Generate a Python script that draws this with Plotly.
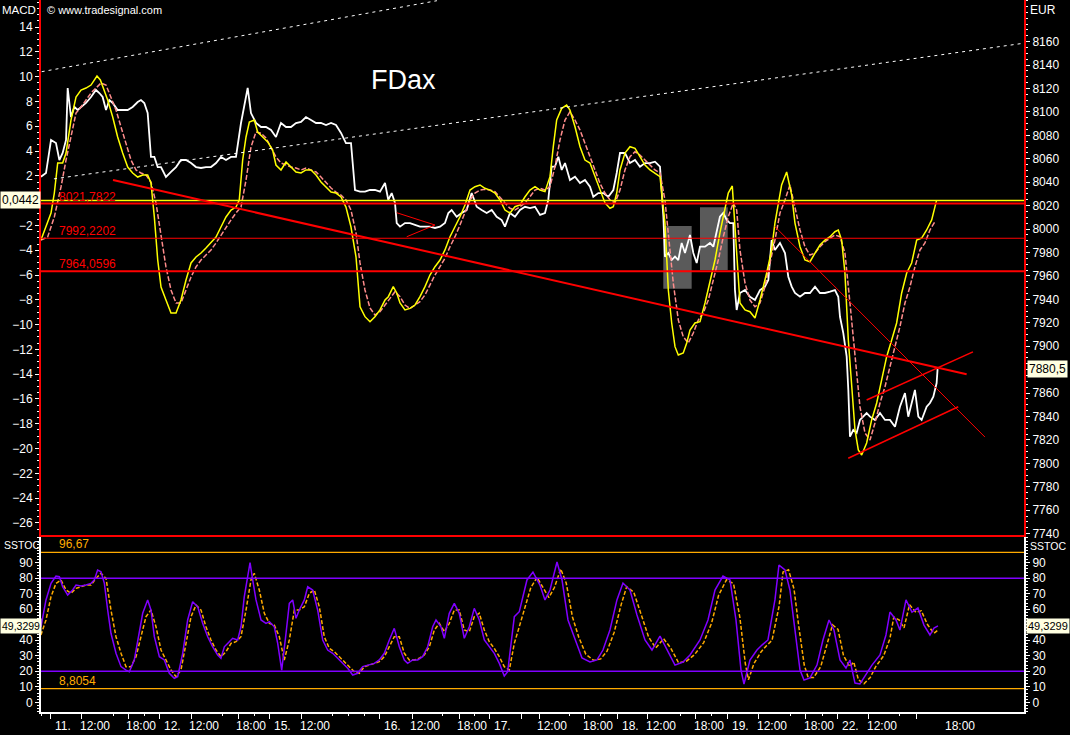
import plotly.graph_objects as go

# ------------------------------------------------------------------
# DATA  (x = trading hours since 11. 08:00 on a session-compressed axis)
# ------------------------------------------------------------------
price_pts = [
    (-1.15, 8044.8), (-0.51, 8047.9), (0.13, 8076.1), (0.76, 8073.5), (1.19, 8059.0), (1.61, 8065.0),
    (2.04, 8076.1), (2.25, 8120.5), (2.67, 8095.7), (3.10, 8104.3), (3.52, 8101.7), (3.95, 8104.3),
    (4.58, 8107.7), (5.22, 8112.8), (5.85, 8118.8), (6.28, 8116.2), (6.70, 8112.8), (7.13, 8101.7),
    (7.55, 8110.2), (7.98, 8107.7), (8.61, 8101.7), (9.25, 8101.7), (9.89, 8101.7), (10.52, 8104.3),
    (11.16, 8108.5), (11.58, 8110.2), (12.00, 8107.7), (12.43, 8099.1), (12.85, 8061.6), (13.28, 8061.6),
    (13.71, 8053.0), (14.13, 8053.0), (14.76, 8044.5), (15.40, 8048.8), (16.04, 8053.0), (16.67, 8059.0),
    (17.31, 8059.0), (17.95, 8056.4), (18.58, 8053.0), (19.22, 8052.2), (19.85, 8053.0), (20.49, 8053.0),
    (21.13, 8056.4), (21.76, 8061.6), (22.40, 8059.0), (23.04, 8061.6), (23.67, 8061.6), (24.31, 8090.6),
    (24.73, 8104.3), (25.16, 8120.5), (25.58, 8099.1), (26.22, 8090.6), (26.86, 8087.2), (27.49, 8087.2),
    (28.13, 8084.6), (28.76, 8078.6), (29.40, 8090.6), (30.04, 8087.2), (30.67, 8087.2), (31.31, 8090.6),
    (31.95, 8091.5), (32.58, 8095.7), (33.22, 8093.2), (33.86, 8090.6), (34.49, 8090.6), (35.13, 8088.9),
    (35.77, 8090.6), (36.40, 8088.9), (37.04, 8082.1), (37.67, 8073.5), (38.31, 8073.5), (38.73, 8036.0),
    (38.82, 8033.4), (39.46, 8032.0), (40.09, 8032.0), (40.73, 8033.4), (41.36, 8033.4), (42.00, 8032.0),
    (42.64, 8039.4), (43.06, 8024.9), (43.49, 8030.8), (43.91, 8022.3), (44.13, 8005.2), (44.55, 8002.1),
    (45.18, 8005.2), (45.82, 8005.2), (46.46, 8003.5), (47.09, 8002.1), (47.73, 8002.1), (48.36, 8002.1),
    (49.00, 8001.0), (49.64, 8002.1), (50.27, 8005.2), (50.70, 8013.8), (51.12, 8016.3), (51.76, 8010.6),
    (52.40, 8013.8), (53.03, 8016.3), (53.67, 8030.8), (54.31, 8019.1), (54.94, 8016.3), (55.58, 8013.8),
    (56.22, 8016.3), (56.85, 8010.6), (57.49, 8007.8), (57.91, 8002.1), (58.55, 8013.8), (59.18, 8010.6),
    (59.82, 8016.3), (60.46, 8019.1), (61.09, 8018.0), (61.73, 8019.1), (62.37, 8012.1), (63.00, 8013.8),
    (63.42, 8024.9), (63.85, 8053.3), (64.27, 8053.3), (64.70, 8061.8), (65.13, 8050.5), (65.55, 8056.4),
    (66.18, 8041.9), (66.82, 8044.8), (67.46, 8039.4), (68.09, 8041.9), (68.73, 8036.2), (69.15, 8027.7),
    (69.79, 8030.8), (70.42, 8030.8), (71.06, 8027.7), (71.70, 8033.4), (72.13, 8047.9), (72.55, 8065.0),
    (73.18, 8065.0), (73.82, 8056.4), (74.46, 8059.0), (75.09, 8053.3), (75.73, 8056.4), (76.37, 8056.4),
    (77.00, 8057.6), (77.64, 8053.3), (78.07, 8010.6), (78.27, 7976.5), (78.70, 7979.6), (79.13, 7973.6),
    (79.55, 7976.5), (79.97, 7973.6), (80.40, 7988.2), (80.82, 7979.6), (81.46, 7995.0), (81.88, 7979.6),
    (82.31, 7971.1), (82.73, 7985.0), (83.37, 7985.0), (84.00, 7988.2), (84.43, 7985.0), (84.85, 7996.7),
    (85.27, 8010.6), (85.70, 8013.8), (86.13, 8007.8), (86.55, 8005.2), (86.97, 8005.2), (87.18, 7948.0),
    (87.40, 7931.0), (87.82, 7945.5), (88.46, 7948.0), (89.09, 7942.3), (89.73, 7939.5), (90.37, 7948.0),
    (91.00, 7950.9), (91.43, 7956.6), (91.85, 7990.7), (92.27, 7982.2), (92.91, 7988.2), (93.55, 7979.6),
    (93.97, 7959.4), (94.40, 7950.9), (94.82, 7945.5), (95.46, 7942.3), (96.09, 7945.5), (96.73, 7945.5),
    (97.37, 7950.9), (98.00, 7945.5), (98.64, 7945.5), (99.28, 7946.6), (99.91, 7948.0), (100.33, 7942.3),
    (100.55, 7925.2), (100.97, 7911.3), (101.40, 7891.1), (101.61, 7862.7), (101.82, 7822.8), (102.24, 7828.5),
    (102.67, 7826.0), (103.09, 7837.1), (103.52, 7839.9), (103.94, 7843.0), (104.37, 7839.9), (105.00, 7837.1),
    (105.64, 7843.0), (106.28, 7837.1), (106.91, 7837.1), (107.55, 7831.3), (108.18, 7848.4), (108.82, 7860.1),
    (109.24, 7839.9), (109.67, 7851.6), (110.09, 7862.7), (110.52, 7839.9), (110.94, 7837.1), (111.58, 7848.4),
    (112.00, 7851.6), (112.43, 7857.0), (112.85, 7868.6), (112.97, 7880.5),
]

macd_pts = [
    (-1.15, -3.18), (-0.51, -2.10), (0.13, -1.00), (0.55, 0.61), (0.98, 3.03), (1.61, 3.03), (2.04, 3.84),
    (2.67, 6.50), (3.31, 8.35), (3.95, 8.92), (4.58, 9.08), (5.22, 9.32), (5.64, 9.73), (5.98, 10.05),
    (6.41, 9.73), (6.92, 8.92), (7.34, 8.11), (7.98, 6.74), (8.61, 5.13), (9.25, 3.84), (9.89, 2.71),
    (10.52, 2.23), (11.16, 1.90), (11.80, 2.06), (12.43, 2.06), (12.85, 1.42), (13.28, -1.32), (13.71, -4.79),
    (14.13, -6.97), (14.76, -8.02), (15.40, -9.06), (16.04, -9.06), (16.67, -8.02), (17.31, -6.40),
    (17.95, -5.03), (18.58, -4.55), (19.22, -4.23), (19.85, -3.82), (20.49, -3.42), (21.13, -2.94),
    (21.76, -2.13), (22.40, -1.32), (23.04, -0.76), (23.67, -0.52), (24.09, 0.05), (24.52, 3.27),
    (24.95, 5.13), (25.37, 6.34), (26.00, 6.50), (26.43, 5.53), (27.07, 5.13), (27.71, 4.73), (28.34, 4.08),
    (28.76, 2.87), (29.40, 2.47), (30.04, 3.11), (30.67, 2.71), (31.31, 2.31), (31.95, 2.23), (32.58, 2.47),
    (33.22, 2.47), (33.86, 2.06), (34.49, 1.50), (35.13, 1.10), (35.77, 0.69), (36.40, 0.61), (37.04, 0.29),
    (37.67, -0.52), (38.31, -2.13), (38.95, -4.55), (39.46, -8.56), (40.09, -9.36), (40.73, -9.77),
    (41.36, -9.36), (42.00, -8.82), (42.64, -8.02), (43.06, -7.75), (43.69, -6.94), (44.13, -7.45),
    (44.55, -8.26), (45.18, -8.82), (45.82, -8.69), (46.46, -8.42), (47.09, -7.75), (47.73, -6.94),
    (48.36, -6.00), (49.00, -5.33), (49.64, -4.79), (50.27, -3.98), (50.91, -2.91), (51.55, -2.10),
    (52.18, -1.30), (52.82, -0.35), (53.46, 0.85), (54.09, 1.12), (54.73, 1.26), (55.36, 0.99), (56.00, 0.85),
    (56.64, 0.61), (57.27, 0.05), (57.91, -0.76), (58.55, -1.00), (59.18, -0.49), (59.82, -0.35),
    (60.46, 0.31), (61.09, 0.85), (61.73, 1.12), (62.37, 0.85), (63.00, 0.72), (63.64, 1.93), (64.06, 4.35),
    (64.49, 6.50), (65.13, 7.44), (65.76, 7.71), (66.18, 7.31), (66.82, 5.96), (67.46, 4.35), (68.09, 3.27),
    (68.73, 3.03), (69.37, 1.93), (70.00, 0.85), (70.64, -0.19), (71.27, -0.62), (71.70, -0.49),
    (72.13, 0.61), (72.55, 2.47), (73.18, 3.84), (73.82, 4.35), (74.46, 4.22), (75.09, 3.54), (75.73, 2.87),
    (76.37, 2.47), (77.00, 2.23), (77.64, 1.93), (78.27, -1.81), (78.70, -7.21), (79.13, -9.87),
    (79.55, -11.78), (79.97, -12.45), (80.60, -12.29), (81.04, -11.48), (81.46, -10.44), (82.09, -9.87),
    (82.73, -9.77), (83.37, -8.26), (84.00, -6.65), (84.64, -4.79), (85.27, -2.61), (85.91, -0.49),
    (86.33, 0.61), (86.84, 1.18), (87.40, -4.52), (87.82, -8.26), (88.46, -8.82), (89.09, -8.96),
    (89.73, -9.47), (90.37, -8.02), (91.22, -5.84), (91.85, -3.98), (92.27, -1.81), (92.70, -0.19),
    (93.12, 1.26), (93.76, 2.31), (94.40, 0.45), (94.82, -1.81), (95.46, -3.72), (96.09, -4.79),
    (96.73, -4.93), (97.37, -4.23), (98.00, -3.58), (98.64, -3.18), (99.28, -2.91), (99.91, -2.51),
    (100.33, -2.37), (100.76, -3.18), (101.18, -5.84), (101.61, -11.24), (102.04, -15.27), (102.46, -18.50),
    (102.88, -20.11), (103.31, -20.52), (103.94, -19.55), (104.58, -17.69), (105.22, -16.32),
    (105.85, -14.47), (106.49, -12.59), (107.13, -11.24), (107.76, -9.87), (108.40, -7.45), (109.04, -5.84),
    (109.67, -5.03), (110.31, -3.18), (110.94, -3.02), (111.58, -2.37), (112.22, -1.56), (112.85, 0.04),
]

signal_pts = [
    (-1.15, -3.18), (-0.30, -2.94), (0.55, -1.32), (1.40, 1.10), (2.04, 3.27), (2.67, 5.13), (3.31, 7.06),
    (3.95, 7.55), (4.58, 8.11), (5.22, 8.68), (5.85, 9.08), (6.49, 9.48), (7.13, 9.32), (7.76, 8.35),
    (8.40, 7.31), (9.04, 5.94), (9.67, 4.65), (10.31, 3.27), (10.95, 2.47), (11.58, 2.23), (12.22, 2.06),
    (12.85, 1.50), (13.49, -0.19), (14.13, -2.94), (14.76, -5.35), (15.40, -7.21), (16.04, -8.26),
    (16.67, -8.26), (17.31, -7.21), (17.95, -6.16), (18.58, -5.35), (19.22, -4.79), (19.85, -4.39),
    (20.49, -3.98), (21.13, -3.42), (21.76, -2.77), (22.40, -2.13), (23.04, -1.56), (23.67, -1.00),
    (24.31, -0.52), (24.95, 1.66), (25.58, 4.32), (26.22, 5.53), (26.86, 5.44), (27.49, 5.05), (28.13, 4.32),
    (28.76, 3.52), (29.40, 3.03), (30.04, 2.87), (30.67, 2.71), (31.31, 2.63), (31.95, 2.47), (32.58, 2.63),
    (33.22, 2.47), (33.86, 2.31), (34.49, 1.90), (35.13, 1.42), (35.77, 1.02), (36.40, 0.69), (37.04, 0.45),
    (37.67, 0.05), (38.31, -0.76), (38.95, -2.61), (39.46, -5.03), (40.09, -7.21), (40.73, -8.66),
    (41.36, -9.23), (42.00, -8.96), (42.64, -8.42), (43.27, -7.85), (43.91, -7.35), (44.55, -7.75),
    (45.18, -8.42), (45.82, -8.69), (46.46, -8.42), (47.09, -8.15), (47.73, -7.61), (48.36, -6.81),
    (49.00, -6.00), (49.64, -5.33), (50.27, -4.65), (50.91, -3.72), (51.55, -2.91), (52.18, -1.97),
    (52.82, -1.00), (53.46, 0.05), (54.09, 0.61), (54.73, 0.85), (55.36, 0.91), (56.00, 0.85), (56.64, 0.72),
    (57.27, 0.31), (57.91, -0.19), (58.55, -0.62), (59.18, -0.76), (59.82, -0.49), (60.46, -0.19),
    (61.09, 0.31), (61.73, 0.85), (62.37, 0.99), (63.00, 0.85), (63.64, 1.12), (64.27, 2.73), (64.91, 4.89),
    (65.55, 6.50), (66.18, 7.17), (66.82, 6.50), (67.46, 5.69), (68.09, 4.62), (68.73, 3.54), (69.37, 2.47),
    (70.00, 1.40), (70.64, 0.61), (71.27, 0.05), (71.91, -0.19), (72.55, 0.85), (73.18, 2.47), (73.82, 3.54),
    (74.46, 3.94), (75.09, 3.68), (75.73, 3.27), (76.37, 2.87), (77.00, 2.47), (77.64, 2.23), (78.27, 0.05),
    (78.91, -4.00), (79.33, -6.65), (79.97, -9.63), (80.60, -10.98), (81.24, -11.48), (81.88, -10.68),
    (82.51, -9.63), (83.15, -9.06), (83.79, -8.02), (84.43, -6.40), (85.06, -4.79), (85.70, -2.91),
    (86.33, -1.30), (86.97, -0.19), (87.40, -0.76), (87.82, -3.98), (88.46, -6.65), (89.09, -8.02),
    (89.73, -8.56), (90.37, -8.26), (91.00, -6.94), (91.64, -5.03), (92.27, -3.18), (92.91, -1.00),
    (93.55, 0.05), (94.18, 1.26), (94.82, -0.49), (95.46, -2.37), (96.09, -3.72), (96.73, -4.39),
    (97.37, -4.23), (98.00, -3.72), (98.64, -3.31), (99.28, -3.04), (99.91, -2.77), (100.55, -2.91),
    (101.18, -4.23), (101.82, -8.26), (102.46, -12.59), (103.09, -16.62), (103.73, -18.74), (104.37, -19.31),
    (105.00, -17.94), (105.64, -16.32), (106.28, -15.01), (106.91, -13.40), (107.55, -11.78),
    (108.18, -10.17), (108.82, -8.26), (109.46, -6.94), (110.09, -5.33), (110.73, -3.98), (111.36, -3.42),
    (112.00, -2.37), (112.63, -1.70),
]

sstoc_pts = [
    (-1.15, 48.7), (-0.51, 66.0), (0.13, 76.7), (0.76, 81.4), (1.19, 81.0), (1.61, 74.5), (2.25, 69.2),
    (2.88, 72.4), (3.31, 75.6), (3.95, 75.0), (4.58, 75.6), (5.22, 76.7), (5.64, 78.9), (6.06, 85.3),
    (6.49, 84.2), (6.92, 76.7), (7.34, 59.5), (7.76, 44.5), (8.40, 31.6), (9.04, 23.0), (9.67, 20.8),
    (10.10, 19.7), (10.73, 27.3), (11.37, 44.5), (11.80, 57.4), (12.43, 66.0), (12.85, 59.5), (13.28, 42.3),
    (13.92, 29.4), (14.55, 27.3), (15.19, 18.7), (15.82, 15.5), (16.25, 16.5), (16.89, 31.6), (17.52, 53.1),
    (18.16, 64.9), (18.80, 61.6), (19.43, 50.9), (20.07, 42.3), (20.71, 35.8), (21.34, 30.5), (21.76, 28.4),
    (22.19, 35.8), (22.82, 39.1), (23.25, 41.3), (23.89, 40.2), (24.31, 48.7), (24.73, 68.1), (25.16, 81.0),
    (25.46, 90.0), (25.80, 78.9), (26.22, 66.0), (26.86, 53.1), (27.49, 50.9), (27.92, 52.0), (28.55, 48.7),
    (28.98, 38.0), (29.49, 20.8), (30.04, 44.5), (30.46, 63.8), (30.89, 66.0), (31.31, 54.2), (31.73, 59.5),
    (32.37, 66.0), (32.80, 74.5), (33.43, 72.4), (34.07, 59.5), (34.71, 40.2), (35.34, 33.7), (35.98, 31.6),
    (36.62, 28.4), (37.25, 25.1), (37.89, 21.9), (38.53, 17.6), (39.16, 18.7), (39.80, 23.0), (40.44, 24.0),
    (41.28, 25.1), (41.91, 27.3), (42.55, 31.6), (43.19, 40.2), (43.82, 47.7), (44.46, 35.8), (45.10, 27.3),
    (45.52, 25.1), (46.16, 27.3), (46.80, 27.3), (47.43, 29.4), (48.07, 35.8), (48.71, 48.7), (49.13, 53.1),
    (49.76, 48.7), (50.19, 41.3), (50.82, 57.4), (51.46, 63.8), (52.09, 57.4), (52.73, 41.3), (53.37, 48.7),
    (54.00, 60.6), (54.64, 53.1), (55.28, 40.2), (55.91, 35.8), (56.55, 31.6), (57.19, 25.1), (57.82, 17.0),
    (58.25, 19.7), (58.67, 38.0), (59.10, 55.2), (59.73, 58.4), (60.71, 78.9), (61.47, 84.0), (62.36, 75.6),
    (63.00, 66.0), (63.64, 72.4), (64.53, 90.5), (65.17, 78.9), (65.93, 53.1), (66.82, 40.2), (67.71, 28.6),
    (68.73, 26.0), (69.62, 27.3), (70.38, 33.7), (71.27, 46.6), (72.16, 66.0), (72.93, 76.9), (73.82, 72.4),
    (74.71, 56.3), (75.73, 40.2), (76.62, 33.7), (77.64, 42.7), (78.53, 33.7), (79.55, 24.0), (80.57, 26.0),
    (81.46, 30.5), (82.73, 40.2), (83.75, 53.1), (84.64, 72.4), (85.66, 81.4), (86.55, 78.9), (87.31, 53.1),
    (87.95, 20.8), (88.33, 11.8), (89.09, 27.3), (89.98, 33.7), (90.62, 36.9), (91.38, 40.2), (92.27, 66.0),
    (92.78, 88.5), (93.55, 85.3), (94.18, 72.4), (94.82, 46.6), (95.46, 20.8), (95.97, 14.4), (96.73, 15.7),
    (97.62, 24.0), (98.38, 40.2), (99.15, 53.1), (99.78, 46.6), (100.55, 27.3), (101.31, 22.1),
    (101.82, 27.3), (102.46, 12.4), (103.09, 11.8), (103.86, 17.6), (104.62, 24.0), (105.64, 30.5),
    (106.40, 43.4), (106.91, 58.2), (107.68, 53.1), (108.18, 46.6), (108.95, 66.0), (109.71, 58.2),
    (110.47, 60.8), (111.24, 49.8), (112.00, 43.4), (112.51, 47.9), (113.02, 49.3),
]

sstoc_sig_pts = [
    (-1.15, 43.4), (-0.51, 53.1), (0.13, 68.1), (0.76, 76.7), (1.40, 78.9), (2.04, 72.4), (2.67, 70.3),
    (3.31, 73.5), (3.95, 74.5), (4.58, 75.6), (5.22, 75.6), (5.85, 79.9), (6.49, 83.2), (7.13, 79.9),
    (7.76, 59.5), (8.40, 42.3), (9.04, 31.6), (9.67, 23.0), (10.31, 23.0), (10.95, 29.4), (11.58, 42.3),
    (12.22, 55.2), (12.85, 59.5), (13.49, 48.7), (14.13, 33.7), (14.76, 27.3), (15.40, 20.8), (16.04, 16.5),
    (16.67, 20.8), (17.31, 38.0), (17.95, 55.2), (18.58, 62.7), (19.22, 59.5), (19.85, 48.7), (20.49, 40.2),
    (21.13, 33.7), (21.76, 29.4), (22.40, 32.6), (23.04, 38.0), (23.67, 39.1), (24.31, 42.3), (24.95, 59.5),
    (25.58, 78.9), (26.00, 83.2), (26.64, 72.4), (27.28, 57.4), (27.92, 50.9), (28.55, 49.8), (29.19, 42.3),
    (29.82, 27.3), (30.46, 40.2), (31.10, 59.5), (31.73, 59.5), (32.37, 61.6), (33.01, 70.3), (33.64, 72.4),
    (34.28, 61.6), (34.91, 42.3), (35.55, 34.8), (36.19, 32.6), (36.82, 29.4), (37.46, 26.2), (38.10, 23.0),
    (38.73, 19.7), (39.37, 18.7), (40.00, 23.0), (40.64, 24.0), (41.28, 25.1), (41.91, 26.2), (42.55, 29.4),
    (43.19, 35.8), (43.82, 42.3), (44.46, 42.3), (45.10, 31.6), (45.73, 27.3), (46.37, 27.3), (47.01, 28.4),
    (47.64, 30.5), (48.28, 35.8), (48.92, 46.6), (49.55, 50.9), (50.19, 45.5), (50.82, 50.9), (51.46, 59.5),
    (52.09, 59.5), (52.73, 46.6), (53.37, 45.5), (54.00, 55.2), (54.64, 57.4), (55.28, 46.6), (55.91, 39.1),
    (56.55, 34.8), (57.19, 29.4), (57.82, 23.0), (58.46, 20.8), (59.10, 38.0), (59.73, 48.7), (61.2, 74.0),
    (62.0, 80.5), (62.9, 73.0), (63.5, 67.5), (64.2, 74.0), (65.0, 86.0), (65.7, 77.0), (66.5, 55.0),
    (67.3, 42.0), (68.2, 31.0), (69.2, 27.0), (70.1, 28.0), (70.9, 33.0), (71.8, 45.0), (72.7, 63.0),
    (73.4, 74.5), (74.3, 71.0), (75.2, 57.0), (76.2, 42.0), (77.1, 35.0), (78.1, 41.0), (79.0, 35.0),
    (80.0, 25.5), (81.0, 26.5), (82.0, 30.5), (83.2, 38.5), (84.2, 51.0), (85.1, 69.0), (86.1, 79.0),
    (87.0, 76.5), (87.8, 55.0), (88.5, 25.0), (88.9, 14.5), (89.6, 25.0), (90.5, 32.5), (91.1, 36.0),
    (91.9, 40.0), (92.8, 62.0), (93.3, 84.0), (94.0, 85.5), (94.7, 73.0), (95.3, 49.0), (96.0, 24.0),
    (96.5, 16.0), (97.2, 16.0), (98.1, 23.0), (98.9, 38.0), (99.6, 50.0), (100.3, 47.0), (101.0, 30.0),
    (101.8, 23.0), (102.3, 26.0), (102.9, 14.5), (103.6, 12.0), (104.4, 16.0), (105.1, 23.0), (106.1, 30.0),
    (106.9, 41.0), (107.4, 55.0), (108.1, 53.0), (108.7, 48.0), (109.4, 63.0), (110.2, 58.0), (110.9, 59.0),
    (111.7, 50.0), (112.5, 44.5), (113.0, 46.5),
]

# horizontal price levels (EUR) with their labels and widths
price_levels = [8021.7822, 7992.2202, 7964.0596]
price_level_labels = ["8021,7822", "7992,2202", "7964,0596"]
price_level_widths = [2, 1, 2]
macd_zero = 0.0
macd_last_label = "0,0442"
macd_last = 0.0442
price_last = 7880.5
price_last_label = "7880,5"
stoc_last = 49.3299
stoc_last_label = "49,3299"
stoc_bands = [80, 20]
stoc_extremes = [96.67, 8.8054]
stoc_extreme_labels = ["96,67", "8,8054"]

# axis tick values (labels hidden by the value boxes are left out, as in the original)
macd_ticks = [v for v in range(-26, 15, 2) if v != 0]
price_ticks = [v for v in range(7740, 8161, 20) if v != 7880]
stoc_ticks = [v for v in range(0, 91, 10) if v != 50]

# drawing tools: trend lines (x0, price0, x1, price1, width)
trend_lines = [
    (8.02, 8041.9, 116.67, 7876.1, 2),
    (92.27, 8002.1, 119.0, 7822.5, 1),
    (103.94, 7854.1, 117.47, 7895.2, 1.5),
    (101.6, 7804.4, 115.6, 7848.4, 1.5),
    (44.13, 8014.0, 49.0, 8003.5, 1),
    (45.4, 7993.5, 49.0, 8003.5, 1),
]
dotted_lines = [
    (-1.06, 8134.4, 49.25, 8195.0),
    (0.5, 8042.9, 123.84, 8158.6),
]
boxes = [
    (78.06, 7949.1, 81.67, 8002.7),
    (82.73, 7965.1, 86.26, 8018.6),
]

# time axis ticks
tick_major = [0.0, 4.03, 9.97, 14.0, 17.95, 23.97, 28.0, 32.03, 42.0, 46.11, 52.06, 56.0, 60.03,
              62.24, 68.09, 72.17, 76.11, 82.22, 86.29, 90.24, 96.22, 100.29, 104.24, 110.35]
tick_minor = [-1.06, 8.06, 12.0, 21.98, 26.0, 35.98, 37.97, 40.0, 49.97, 54.09, 66.18, 70.13,
              80.27, 84.22, 94.27, 98.26, 108.18]
label_pos = [0.0, 4.03, 9.97, 14.0, 17.95, 23.97, 28.0, 32.03, 42.0, 46.11, 52.06, 56.0, 62.24,
             68.09, 72.17, 76.11, 82.22, 86.29, 90.24, 96.22, 100.29, 104.24, 114.2]
label_text = ["11.", "12:00", "18:00", "12.", "12:00", "18:00", "15.", "12:00", "16.", "12:00",
              "18:00", "17.", "12:00", "18:00", "18.", "12:00", "18:00", "19.", "12:00", "18:00",
              "22.", "12:00", "18:00"]

# ------------------------------------------------------------------
# LAYOUT CONSTANTS
# ------------------------------------------------------------------
W, H = 1070, 735
ML, MR, MT, MB = 41, 46, 0, 23
X_RANGE = [-1.1455, 123.97]
PRICE_RANGE = [7738.9, 8195.6]
MACD_RANGE = [-26.97, 16.18]
STOC_RANGE = [-6.25, 106.6]
TOP_DOMAIN = [0.2486, 1.0]
BOT_DOMAIN = [0.0, 0.2458]

FONT = "Liberation Sans, Arial, sans-serif"
FS = 12
RED = "#FF0000"
YELLOW = "#FFFF00"
SALMON = "#FF8C8C"
PURPLE = "#8000FF"
ORANGE = "#FFAA00"
BOXBG = "#FFFFE1"


def xs(p):
    return [a[0] for a in p]


def ys(p):
    return [a[1] for a in p]


fig = go.Figure()

fig.add_trace(go.Scatter(x=xs(price_pts), y=ys(price_pts), xaxis="x", yaxis="y",
                         mode="lines", line=dict(color="white", width=1.8), hoverinfo="skip"))
fig.add_trace(go.Scatter(x=xs(signal_pts), y=ys(signal_pts), xaxis="x", yaxis="y2",
                         mode="lines", line=dict(color=SALMON, width=1.5, dash="5px,2px"), hoverinfo="skip"))
fig.add_trace(go.Scatter(x=xs(macd_pts), y=ys(macd_pts), xaxis="x", yaxis="y2",
                         mode="lines", line=dict(color=YELLOW, width=1.5), hoverinfo="skip"))
fig.add_trace(go.Scatter(x=xs(sstoc_sig_pts), y=ys(sstoc_sig_pts), xaxis="x2", yaxis="y3",
                         mode="lines", line=dict(color=ORANGE, width=1.5, dash="4px,2px"), hoverinfo="skip"))
fig.add_trace(go.Scatter(x=xs(sstoc_pts), y=ys(sstoc_pts), xaxis="x2", yaxis="y3",
                         mode="lines", line=dict(color=PURPLE, width=1.5), hoverinfo="skip"))
fig.add_trace(go.Scatter(x=[None], y=[None], xaxis="x2", yaxis="y4", mode="lines", hoverinfo="skip"))

shapes = []
for x0, y0, x1, y1 in boxes:
    shapes.append(dict(type="rect", xref="x", yref="y", x0=x0, x1=x1, y0=y0, y1=y1,
                       fillcolor="#5a5a5a", line=dict(width=0), layer="below"))
for lv, w in zip(price_levels, price_level_widths):
    shapes.append(dict(type="line", xref="x domain", yref="y", x0=0, x1=1, y0=lv, y1=lv,
                       line=dict(color=RED, width=w)))
shapes.append(dict(type="line", xref="x domain", yref="y2", x0=0, x1=1, y0=macd_zero, y1=macd_zero,
                   line=dict(color=YELLOW, width=1.5)))
for x0, y0, x1, y1, w in trend_lines:
    shapes.append(dict(type="line", xref="x", yref="y", x0=x0, x1=x1, y0=y0, y1=y1,
                       line=dict(color=RED, width=w)))
for x0, y0, x1, y1 in dotted_lines:
    shapes.append(dict(type="line", xref="x", yref="y", x0=x0, x1=x1, y0=y0, y1=y1,
                       line=dict(color="white", width=1, dash="3px,4px")))
for b in stoc_bands:
    shapes.append(dict(type="line", xref="x2 domain", yref="y3", x0=0, x1=1, y0=b, y1=b,
                       line=dict(color=PURPLE, width=1.5)))
for b in stoc_extremes:
    shapes.append(dict(type="line", xref="x2 domain", yref="y3", x0=0, x1=1, y0=b, y1=b,
                       line=dict(color=ORANGE, width=1.2)))

PW = W - ML - MR
PH = H - MT - MB


def px(xp):
    return (xp - ML) / PW


def py(yp):
    return (H - MB - yp) / PH


ann = []
for p, t in zip(label_pos, label_text):
    ann.append(dict(x=p, y=py(726), xref="x2", yref="paper", text=t, showarrow=False,
                    xanchor="center", yanchor="middle", xshift=13,
                    font=dict(family=FONT, size=FS, color="white")))
for lv, t in zip(price_levels, price_level_labels):
    ann.append(dict(x=px(57), y=lv, xref="paper", yref="y", text=t,
                    showarrow=False, xanchor="left", yanchor="bottom", yshift=-2,
                    font=dict(family=FONT, size=FS, color=RED)))
for lv, t in zip(stoc_extremes, stoc_extreme_labels):
    ann.append(dict(x=px(57), y=lv, xref="paper", yref="y3", text=t,
                    showarrow=False, xanchor="left", yanchor="bottom", yshift=-1,
                    font=dict(family=FONT, size=FS, color=ORANGE)))

ann += [
    dict(x=px(38), y=py(10), xref="paper", yref="paper", text="MACD", showarrow=False,
         xanchor="right", yanchor="middle", font=dict(family=FONT, size=11.5, color="white")),
    dict(x=px(45), y=py(10), xref="paper", yref="paper", text="© www.tradesignal.com", showarrow=False,
         xanchor="left", yanchor="middle", font=dict(family=FONT, size=11, color="white")),
    dict(x=px(1028), y=py(10), xref="paper", yref="paper", text="EUR", showarrow=False,
         xanchor="left", yanchor="middle", font=dict(family=FONT, size=FS, color="white")),
    dict(x=px(403), y=py(80), xref="paper", yref="paper", text="FDax", showarrow=False,
         xanchor="center", yanchor="middle", font=dict(family=FONT, size=27, color="white")),
    dict(x=px(2), y=py(545), xref="paper", yref="paper", text="SSTOC", showarrow=False,
         xanchor="left", yanchor="middle", font=dict(family=FONT, size=10.5, color="white")),
    dict(x=px(1028), y=py(546), xref="paper", yref="paper", text="SSTOC", showarrow=False,
         xanchor="left", yanchor="middle", font=dict(family=FONT, size=10.5, color="white")),
    dict(x=px(0), y=macd_last, xref="paper", yref="y2", text=macd_last_label, showarrow=False,
         xanchor="left", yanchor="middle", bgcolor=BOXBG, borderpad=1,
         font=dict(family=FONT, size=FS, color="black")),
    dict(x=px(1027), y=price_last, xref="paper", yref="y", text=price_last_label, showarrow=False,
         xanchor="left", yanchor="middle", bgcolor=BOXBG, borderpad=1,
         font=dict(family=FONT, size=FS, color="black")),
    dict(x=px(0), y=stoc_last, xref="paper", yref="y3", text=stoc_last_label, showarrow=False,
         xanchor="left", yanchor="middle", bgcolor=BOXBG, borderpad=1,
         font=dict(family=FONT, size=10.5, color="black")),
    dict(x=px(1026), y=stoc_last, xref="paper", yref="y3", text=stoc_last_label, showarrow=False,
         xanchor="left", yanchor="middle", bgcolor=BOXBG, borderpad=1,
         font=dict(family=FONT, size=11, color="black")),
]

tickfont = dict(family=FONT, size=FS, color="white")
common_y = dict(showgrid=False, zeroline=False, ticks="outside", tickcolor="white", ticklen=4,
                tickfont=tickfont, automargin=False, fixedrange=True, tickmode="array")

fig.update_layout(
    width=W, height=H,
    margin=dict(l=ML, r=MR, t=MT, b=MB),
    paper_bgcolor="black", plot_bgcolor="black",
    showlegend=False,
    shapes=shapes, annotations=ann,
    xaxis=dict(domain=[0, 1], anchor="y", range=X_RANGE, showgrid=False, zeroline=False,
               showticklabels=False, ticks="", showline=True, linecolor=RED, linewidth=2,
               automargin=False, fixedrange=True),
    yaxis=dict(domain=TOP_DOMAIN, anchor="x", side="right", range=PRICE_RANGE,
               tickvals=price_ticks,
               minor=dict(dtick=5, tick0=7740, ticks="outside", ticklen=2, tickcolor="white", showgrid=False),
               showline=True, linecolor=RED, linewidth=2, **common_y),
    yaxis2=dict(overlaying="y", anchor="x", side="left", range=MACD_RANGE,
                tickvals=macd_ticks,
                minor=dict(dtick=0.5, tick0=-26, ticks="outside", ticklen=2, tickcolor="white", showgrid=False),
                showline=True, linecolor=RED, linewidth=2, **common_y),
    xaxis2=dict(domain=[0, 1], anchor="y3", range=X_RANGE, showgrid=False, zeroline=False,
                tickmode="array", tickvals=tick_major, ticktext=[""] * len(tick_major),
                showticklabels=False, ticks="outside", ticklen=5, tickcolor="white",
                minor=dict(tickmode="array", tickvals=tick_minor, ticks="outside", ticklen=2,
                           tickcolor="white", showgrid=False),
                showline=True, linecolor="white", linewidth=2, automargin=False, fixedrange=True),
    yaxis3=dict(domain=BOT_DOMAIN, anchor="x2", side="left", range=STOC_RANGE,
                tickvals=stoc_ticks,
                minor=dict(dtick=2, tick0=0, ticks="outside", ticklen=2, tickcolor="white", showgrid=False),
                showline=True, linecolor="white", linewidth=2, **common_y),
    yaxis4=dict(overlaying="y3", anchor="x2", side="right", range=STOC_RANGE,
                tickvals=stoc_ticks,
                minor=dict(dtick=2, tick0=0, ticks="outside", ticklen=2, tickcolor="white", showgrid=False),
                showline=True, linecolor="white", linewidth=2, **common_y),
)

fig.write_html("out.html", config={"displayModeBar": False},
               post_script="document.body.style.margin='0';document.body.style.background='black';")
